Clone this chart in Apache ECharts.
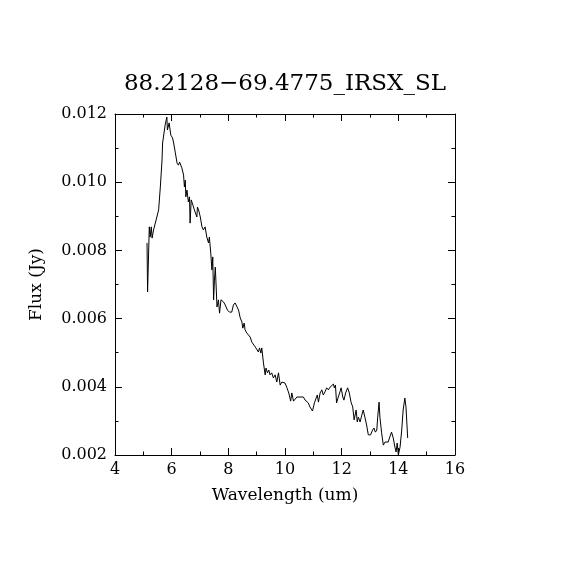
<!DOCTYPE html>
<html>
<head>
<meta charset="utf-8">
<script src="https://cdn.jsdelivr.net/npm/echarts@6/dist/echarts.min.js"></script>
<style>
  html, body { margin: 0; padding: 0; background: #fff; }
  #main { width: 570px; height: 570px; }
</style>
</head>
<body>
<div id="main"></div>
<script>
// 波长 (um)
var wavelength = [
  5.13, 5.15, 5.21, 5.24, 5.28, 5.31, 5.36, 5.45, 5.54, 5.60,
  5.66, 5.68, 5.74, 5.77, 5.83, 5.85, 5.91, 5.97, 6.03, 6.07,
  6.13, 6.19, 6.24, 6.28, 6.33, 6.36, 6.42, 6.45, 6.48, 6.50,
  6.54, 6.59, 6.63, 6.65, 6.69, 6.75, 6.80, 6.83, 6.89, 6.91,
  6.95, 7.01, 7.07, 7.12, 7.18, 7.24, 7.30, 7.33, 7.38, 7.42,
  7.45, 7.48, 7.51, 7.54, 7.56, 7.60, 7.65, 7.69, 7.74, 7.79,
  7.83, 7.89, 7.97, 8.04, 8.12, 8.18, 8.24, 8.30, 8.36, 8.42,
  8.48, 8.51, 8.56, 8.59, 8.65, 8.71, 8.77, 8.83, 8.89, 8.95,
  9.01, 9.06, 9.10, 9.15, 9.18, 9.24, 9.30, 9.33, 9.38, 9.43,
  9.47, 9.53, 9.59, 9.65, 9.71, 9.77, 9.83, 9.89, 9.94, 10.00,
  10.06, 10.12, 10.15, 10.20, 10.24, 10.30, 10.36, 10.42, 10.53, 10.65,
  10.71, 10.77, 10.82, 10.88, 10.97, 11.04, 11.10, 11.14, 11.18, 11.24,
  11.30, 11.35, 11.41, 11.47, 11.53, 11.59, 11.65, 11.71, 11.74, 11.78,
  11.82, 11.88, 11.94, 11.98, 12.04, 12.08, 12.14, 12.21, 12.27, 12.33,
  12.39, 12.44, 12.51, 12.55, 12.59, 12.65, 12.71, 12.76, 12.82, 12.88,
  12.94, 13.02, 13.09, 13.14, 13.19, 13.24, 13.27, 13.32, 13.35, 13.41,
  13.47, 13.53, 13.59, 13.64, 13.70, 13.76, 13.82, 13.88, 13.92, 13.96,
  14.00, 14.06, 14.12, 14.17, 14.23, 14.27, 14.33
];

// 流量 (Jy)
var flux = [
  0.00822, 0.00678, 0.00869, 0.00839, 0.00869, 0.00836, 0.00860, 0.00889, 0.00919, 0.00986,
  0.01065, 0.01115, 0.01115, 0.01168, 0.01191, 0.01153, 0.01174, 0.01138, 0.01130, 0.01115,
  0.01086, 0.01056, 0.01050, 0.01059, 0.01056, 0.01042, 0.01021, 0.00986, 0.01006, 0.00957,
  0.00977, 0.00942, 0.00957, 0.00880, 0.00948, 0.00933, 0.00919, 0.00924, 0.00898, 0.00927,
  0.00919, 0.00898, 0.00869, 0.00860, 0.00869, 0.00839, 0.00822, 0.00839, 0.00792, 0.00743,
  0.00781, 0.00655, 0.00713, 0.00751, 0.00713, 0.00634, 0.00655, 0.00616, 0.00655, 0.00660,
  0.00649, 0.00640, 0.00625, 0.00619, 0.00619, 0.00640, 0.00646, 0.00646, 0.00625, 0.00602,
  0.00590, 0.00572, 0.00587, 0.00567, 0.00558, 0.00558, 0.00546, 0.00531, 0.00528, 0.00517,
  0.00514, 0.00502, 0.00514, 0.00499, 0.00514, 0.00470, 0.00435, 0.00455, 0.00441, 0.00449,
  0.00435, 0.00441, 0.00426, 0.00435, 0.00414, 0.00441, 0.00405, 0.00414, 0.00417, 0.00411,
  0.00399, 0.00385, 0.00376, 0.00358, 0.00382, 0.00358, 0.00361, 0.00370, 0.00370, 0.00370,
  0.00361, 0.00364, 0.00353, 0.00341, 0.00329, 0.00353, 0.00367, 0.00376, 0.00355, 0.00382,
  0.00391, 0.00376, 0.00385, 0.00397, 0.00391, 0.00399, 0.00402, 0.00408, 0.00397, 0.00405,
  0.00353, 0.00370, 0.00385, 0.00397, 0.00370, 0.00361, 0.00382, 0.00397, 0.00382, 0.00355,
  0.00341, 0.00303, 0.00332, 0.00297, 0.00311, 0.00297, 0.00317, 0.00332, 0.00311, 0.00288,
  0.00259, 0.00259, 0.00273, 0.00279, 0.00267, 0.00273, 0.00309, 0.00355, 0.00311, 0.00265,
  0.00229, 0.00238, 0.00235, 0.00238, 0.00253, 0.00267, 0.00250, 0.00223, 0.00209, 0.00235,
  0.00200, 0.00223, 0.00273, 0.00332, 0.00367, 0.00341, 0.00250
];

var xTicks = { min: 4, max: 16, interval: 2 };
var yTicks = { min: 0.002, max: 0.012, interval: 0.002 };

var points = wavelength.map(function (w, i) { return [w, flux[i]]; });

var myChart = echarts.init(document.getElementById('main'));

var font = 'DejaVu Serif';
var axisLine = { show: true, lineStyle: { color: '#000', width: 1 } };
var tickIn = { show: true, inside: true, length: 7, lineStyle: { color: '#000', width: 1 } };
var minorIn = { show: true, splitNumber: 2, length: 3.5, lineStyle: { color: '#000', width: 1 } };

var option = {
    animation: false,
    backgroundColor: '#fff',
    title: {
        text: '88.2128\u221269.4775_IRSX_SL',
        left: 'center',
        top: 68,
        textStyle: { fontFamily: font, fontWeight: 'normal', fontSize: 23, color: '#000' }
    },
    grid: { left: 115, right: 115, top: 114, bottom: 115 },
    xAxis: [{
        type: 'value',
        min: xTicks.min, max: xTicks.max, interval: xTicks.interval,
        name: 'Wavelength (um)',
        nameLocation: 'middle',
        nameGap: 32,
        nameTextStyle: { fontFamily: font, fontSize: 17, color: '#000' },
        axisLine: axisLine, axisTick: tickIn, minorTick: minorIn,
        splitLine: { show: false },
        axisLabel: { fontFamily: font, fontSize: 16, color: '#000', margin: 7 }
    }, {
        type: 'value', position: 'top',
        min: xTicks.min, max: xTicks.max, interval: xTicks.interval,
        axisLine: axisLine, axisTick: tickIn, minorTick: minorIn,
        splitLine: { show: false }, axisLabel: { show: false }
    }],
    yAxis: [{
        type: 'value',
        min: yTicks.min, max: yTicks.max, interval: yTicks.interval,
        name: 'Flux (Jy)',
        nameLocation: 'middle',
        nameGap: 70,
        nameTextStyle: { fontFamily: font, fontSize: 17, color: '#000' },
        axisLine: axisLine, axisTick: tickIn, minorTick: minorIn,
        splitLine: { show: false },
        axisLabel: {
            fontFamily: font, fontSize: 16, color: '#000', margin: 8,
            formatter: function (v) { return v.toFixed(3); }
        }
    }, {
        type: 'value', position: 'right',
        min: yTicks.min, max: yTicks.max, interval: yTicks.interval,
        axisLine: axisLine, axisTick: tickIn, minorTick: minorIn,
        splitLine: { show: false }, axisLabel: { show: false }
    }],
    series: [{
        type: 'line',
        data: points,
        showSymbol: false,
        symbol: 'none',
        lineStyle: { color: '#000', width: 1 },
        clip: true
    }]
};

myChart.setOption(option);
</script>
</body>
</html>
